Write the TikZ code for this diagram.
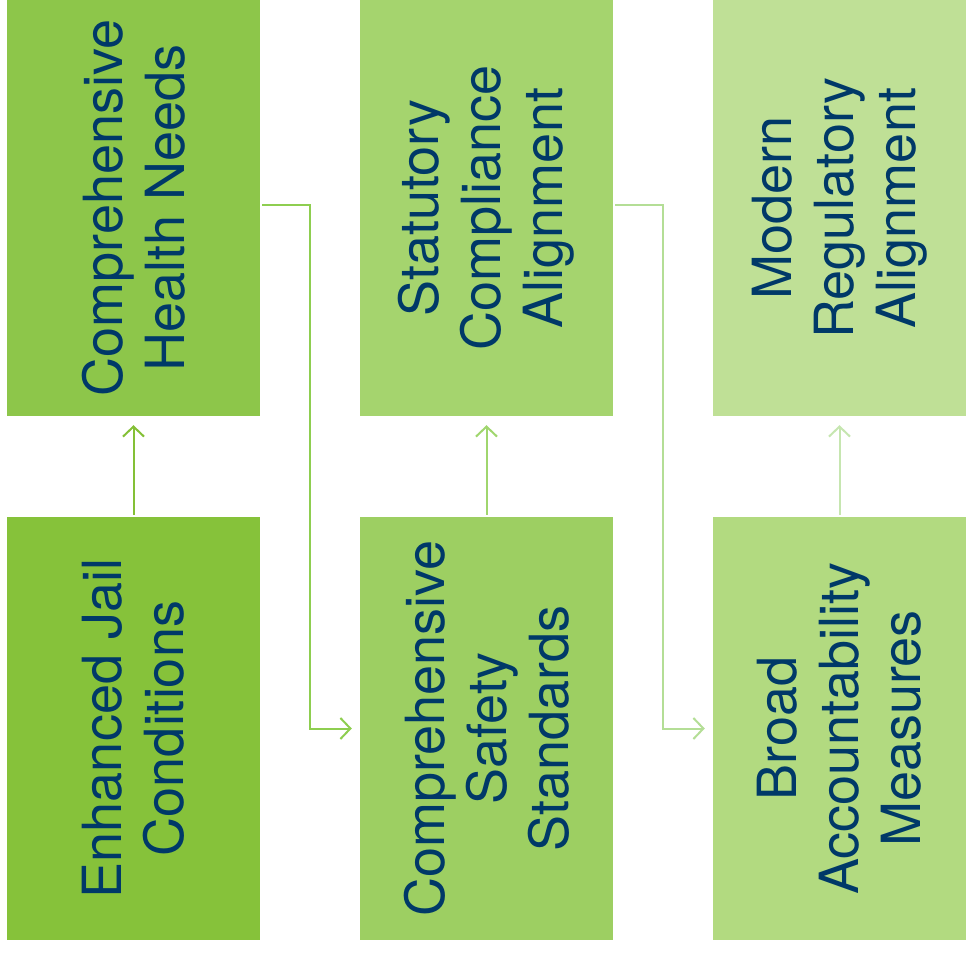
\documentclass[tikz,border=0pt]{standalone}
\usepackage{fontspec}
\setmainfont{TeX Gyre Heros}
\usetikzlibrary{arrows.meta}
\definecolor{txt}{RGB}{0,57,104}
\definecolor{cA}{RGB}{134,194,58}
\definecolor{cB}{RGB}{141,198,74}
\definecolor{cC}{RGB}{157,207,98}
\definecolor{cD}{RGB}{165,212,110}
\definecolor{cE}{RGB}{178,218,128}
\definecolor{cF}{RGB}{191,224,150}
\definecolor{aA}{RGB}{132,192,54}
\definecolor{aB}{RGB}{142,206,80}
\definecolor{aC}{RGB}{160,214,110}
\definecolor{aD}{RGB}{180,222,150}
\definecolor{aE}{RGB}{198,230,176}
\begin{document}
\begin{tikzpicture}[x=1pt,y=-1pt,
  box/.style={draw=none,fill=#1,minimum width=253pt,minimum height=423pt,inner sep=0pt},
  lbl/.style={rotate=90,text=txt,align=center,font=\fontsize{54}{62}\selectfont,inner sep=0pt},
  conn/.style={line width=2pt,draw=#1,-{Straight Barb[length=10pt,width=21pt,line width=2pt]}},
  link/.style={line width=2pt,draw=#1,-{Straight Barb[length=10pt,width=21pt,line width=2pt]}}]
\useasboundingbox (0,0) rectangle (967,955);
% top row
\node[box=cB,minimum height=416pt] (a1) at (133.5,208) {};
\node[box=cD,minimum height=416pt] (a2) at (486.5,208) {};
\node[box=cF,minimum height=416pt] (a3) at (839.5,208) {};
% bottom row
\node[box=cA] (b1) at (133.5,728.5) {};
\node[box=cC] (b2) at (486.5,728.5) {};
\node[box=cE] (b3) at (839.5,728.5) {};
% labels
\node[lbl] (la1) at (a1.center) {Comprehensive\\Health Needs};
\node[lbl] (la2) at (a2.center) {Statutory\\Compliance\\Alignment};
\node[lbl] (la3) at (a3.center) {Modern\\Regulatory\\Alignment};
\node[lbl] (lb1) at (b1.center) {Enhanced Jail\\Conditions};
\node[lbl] (lb2) at (b2.center) {Comprehensive\\Safety\\Standards};
\node[lbl] (lb3) at (b3.center) {Broad\\Accountability\\Measures};
% vertical arrows
\draw[conn=aA,shorten <=2pt,shorten >=9pt] (b1.north) -- (a1.south);
\draw[conn=aC,shorten <=2pt,shorten >=9pt] (b2.north) -- (a2.south);
\draw[conn=aE,shorten <=2pt,shorten >=9pt] (b3.north) -- (a3.south);
% elbow connectors
\coordinate (e1) at ([yshift=3pt]a1.east);
\coordinate (e2) at ([yshift=3pt]a2.east);
\draw[link=aB,shorten <=2pt,shorten >=8pt] (e1) -- ++(50,0) |- (b2.west);
\draw[link=aD,shorten <=2pt,shorten >=8pt] (e2) -- ++(50,0) |- (b3.west);
\end{tikzpicture}
\end{document}
